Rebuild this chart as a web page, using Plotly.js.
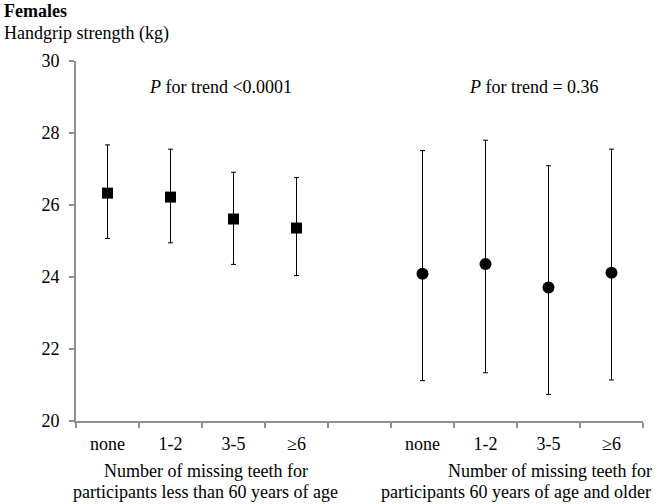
<!DOCTYPE html>
<html>
<head>
<meta charset="utf-8">
<script src="https://cdn.plot.ly/plotly-3.0.1.min.js"></script>
<style>html,body{margin:0;padding:0;background:#fff;}#chart{width:660px;height:504px;}</style>
</head>
<body>
<div id="chart"></div>
<script>
// ---- data ----
const toothGroups = ['none', '1-2', '3-5', '\u22656'];
const youngPos = [1, 2, 3, 4];
const olderPos = [6, 7, 8, 9];
const youngMean = [26.33, 26.22, 25.61, 25.36];
const youngUpper = [27.67, 27.55, 26.91, 26.76];
const youngLower = [25.07, 24.95, 24.35, 24.04];
const olderMean = [24.09, 24.36, 23.71, 24.12];
const olderUpper = [27.51, 27.80, 27.09, 27.55];
const olderLower = [21.12, 21.34, 20.74, 21.14];
const pYoung = '<i>P</i> for trend &lt;0.0001';
const pOlder = '<i>P</i> for trend = 0.36';

const FONT = '"Liberation Serif", "Times New Roman", serif';
const FS = 18;
const AX = '#8f8f8f';

function errs(mean, up, lo) {
  return {
    type: 'data', symmetric: false,
    array: mean.map((m, i) => up[i] - m),
    arrayminus: mean.map((m, i) => m - lo[i]),
    color: '#000', thickness: 1, width: 2.5
  };
}

const traces = [
  { x: youngPos, y: youngMean, type: 'scatter', mode: 'markers',
    marker: { symbol: 'square', size: 11, color: '#000' },
    error_y: errs(youngMean, youngUpper, youngLower), hoverinfo: 'y' },
  { x: olderPos, y: olderMean, type: 'scatter', mode: 'markers',
    marker: { symbol: 'circle', size: 12, color: '#000' },
    error_y: errs(olderMean, olderUpper, olderLower), hoverinfo: 'y' }
];

const L = 76, R = 17, T = 60.5, B = 82.5, W = 660, H = 504;
const pw = W - L - R, ph = H - T - B;
const px = v => (v - L) / pw;
const py = v => (H - B - v) / ph;

const boundaries = [];
for (let i = 0; i <= 9; i++) boundaries.push(i + 0.5);

const labelPos = youngPos.concat(olderPos);
const labelText = toothGroups.concat(toothGroups);

function ann(text, x, y, opts) {
  return Object.assign({ text, xref: 'paper', yref: 'paper', x: px(x), y: py(y),
    showarrow: false, font: { family: FONT, size: FS, color: '#000' },
    xanchor: 'center', yanchor: 'middle', borderpad: 0 }, opts || {});
}

const layout = {
  width: W, height: H,
  margin: { l: L, r: R, t: T, b: B, pad: 0 },
  paper_bgcolor: '#fff', plot_bgcolor: '#fff',
  showlegend: false,
  font: { family: FONT, size: FS, color: '#000' },
  xaxis: {
    range: [0.5, 9.5], tickvals: boundaries, showticklabels: false,
    ticks: 'outside', ticklen: 5, tickcolor: AX, tickwidth: 1.5,
    showline: true, linecolor: AX, linewidth: 2, showgrid: false, zeroline: false
  },
  xaxis2: {
    overlaying: 'x', anchor: 'y', side: 'bottom', range: [0.5, 9.5],
    tickvals: labelPos, ticktext: labelText, ticks: '', showline: false,
    showgrid: false, zeroline: false, ticklabelstandoff: 10,
    tickfont: { family: FONT, size: FS, color: '#000' }
  },
  yaxis: {
    range: [20, 30], tickvals: [20, 22, 24, 26, 28, 30],
    ticks: 'outside', ticklen: 5, tickcolor: AX, tickwidth: 1.5,
    showline: true, linecolor: AX, linewidth: 2, showgrid: false, zeroline: false,
    tickfont: { family: FONT, size: FS, color: '#000' }, ticklabelstandoff: 6
  },
  annotations: [
    ann('<b>Females</b>', 3, 10.5, { xanchor: 'left' }),
    ann('Handgrip strength (kg)', 3, 32.5, { xanchor: 'left' }),
    ann(pYoung, 220, 87),
    ann(pOlder, 534, 87),
    ann('Number of missing teeth for', 206, 471.5),
    ann('participants less than 60 years of age', 205, 492.5),
    ann('Number of missing teeth for', 550, 471.5),
    ann('participants 60 years of age and older', 516, 492.5)
  ]
};

// invisible trace so xaxis2 is drawn
traces.push({ x: [1], y: [25], xaxis: 'x2', yaxis: 'y', type: 'scatter', mode: 'markers',
  marker: { opacity: 0 }, hoverinfo: 'skip' });

Plotly.newPlot('chart', traces, layout, { displayModeBar: false, staticPlot: true });
</script>
</body>
</html>
